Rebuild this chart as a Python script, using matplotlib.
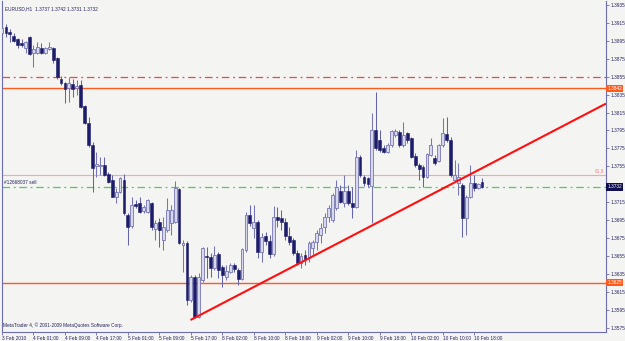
import matplotlib
matplotlib.use("Agg")
import matplotlib.pyplot as plt
import numpy as np

# ---- data (EURUSD H1) ----
opens = [1.3904,1.3910,1.3905,1.3900,1.3897,1.3893,1.3887,1.3899,1.3881,1.3881,
         1.3887,1.3881,1.3886,1.3887,1.3876,1.3853,1.3848,1.3842,1.3847,1.3842,
         1.3846,1.3822,1.3803,1.3779,1.3755,1.3755,1.3756,1.3746,1.3740,1.3721,
         1.3726,1.3740,1.3701,1.3688,1.3713,1.3714,1.3705,1.3704,1.3714,1.3685,
         1.3693,1.3673,1.3684,1.3692,1.3693,1.3730,1.3667,1.3669,1.3606,1.3631,
         1.3587,1.3628,1.3655,1.3654,1.3642,1.3657,1.3643,1.3631,1.3637,1.3645,
         1.3639,1.3629,1.3662,1.3701,1.3686,1.3693,1.3659,1.3677,1.3672,1.3657,
         1.3698,1.3697,1.3693,1.3677,1.3673,1.3658,1.3647,1.3656,1.3653,1.3664,
         1.3670,1.3678,1.3687,1.3698,1.3695,1.3708,1.3728,1.3714,1.3728,1.3714,
         1.3710,1.3765,1.3743,1.3742,1.3733,1.3796,1.3784,1.3775,1.3771,1.3779,
         1.3790,1.3793,1.3779,1.3792,1.3787,1.3767,1.3756,1.3754,1.3743,1.3768,
         1.3764,1.3761,1.3779,1.3791,1.3784,1.3740,1.3736,1.3734,1.3697,1.3721,
         1.3736,1.3731,1.3737]
highs = [1.3920,1.3914,1.3908,1.3904,1.3898,1.3897,1.3895,1.3900,1.3890,1.3894,
         1.3893,1.3888,1.3894,1.3888,1.3877,1.3856,1.3849,1.3855,1.3853,1.3851,
         1.3851,1.3823,1.3810,1.3782,1.3771,1.3765,1.3765,1.3749,1.3745,1.3731,
         1.3743,1.3746,1.3703,1.3721,1.3717,1.3721,1.3712,1.3718,1.3715,1.3695,
         1.3697,1.3698,1.3720,1.3712,1.3739,1.3731,1.3673,1.3672,1.3634,1.3634,
         1.3636,1.3665,1.3665,1.3658,1.3666,1.3659,1.3645,1.3645,1.3647,1.3647,
         1.3642,1.3664,1.3704,1.3712,1.3712,1.3695,1.3681,1.3682,1.3678,1.3711,
         1.3710,1.3706,1.3697,1.3687,1.3675,1.3662,1.3658,1.3662,1.3672,1.3673,
         1.3684,1.3692,1.3703,1.3712,1.3725,1.3740,1.3734,1.3745,1.3734,1.3732,
         1.3773,1.3768,1.3745,1.3743,1.3814,1.3838,1.3796,1.3779,1.3781,1.3796,
         1.3797,1.3796,1.3804,1.3793,1.3788,1.3770,1.3759,1.3756,1.3770,1.3787,
         1.3768,1.3780,1.3809,1.3810,1.3788,1.3762,1.3759,1.3736,1.3723,1.3756,
         1.3745,1.3736,1.3742]
lows = [1.3899,1.3899,1.3894,1.3894,1.3887,1.3888,1.3881,1.3879,1.3866,1.3880,
        1.3880,1.3880,1.3885,1.3870,1.3853,1.3846,1.3826,1.3827,1.3832,1.3835,
        1.3820,1.3802,1.3777,1.3726,1.3743,1.3745,1.3744,1.3736,1.3721,1.3714,
        1.3725,1.3701,1.3667,1.3686,1.3708,1.3703,1.3703,1.3703,1.3684,1.3673,
        1.3665,1.3662,1.3682,1.3678,1.3692,1.3668,1.3637,1.3600,1.3604,1.3586,
        1.3586,1.3626,1.3630,1.3631,1.3639,1.3630,1.3620,1.3628,1.3636,1.3637,
        1.3623,1.3628,1.3659,1.3688,1.3675,1.3653,1.3648,1.3667,1.3653,1.3655,
        1.3687,1.3684,1.3673,1.3667,1.3656,1.3645,1.3642,1.3645,1.3648,1.3655,
        1.3662,1.3669,1.3681,1.3693,1.3693,1.3706,1.3714,1.3710,1.3712,1.3697,
        1.3709,1.3743,1.3733,1.3732,1.3692,1.3773,1.3771,1.3770,1.3770,1.3777,
        1.3788,1.3777,1.3777,1.3781,1.3764,1.3754,1.3740,1.3732,1.3742,1.3767,
        1.3756,1.3760,1.3777,1.3782,1.3743,1.3737,1.3723,1.3676,1.3678,1.3720,
        1.3728,1.3730,1.3731]
closes = [1.3909,1.3904,1.3903,1.3895,1.3890,1.3890,1.3894,1.3880,1.3886,1.3888,
          1.3881,1.3887,1.3888,1.3874,1.3855,1.3848,1.3841,1.3848,1.3841,1.3845,
          1.3821,1.3803,1.3779,1.3753,1.3758,1.3756,1.3745,1.3737,1.3721,1.3726,
          1.3742,1.3703,1.3687,1.3712,1.3711,1.3704,1.3710,1.3717,1.3687,1.3692,
          1.3684,1.3687,1.3706,1.3706,1.3731,1.3669,1.3669,1.3606,1.3631,1.3587,
          1.3631,1.3664,1.3654,1.3642,1.3656,1.3639,1.3634,1.3638,1.3645,1.3640,
          1.3629,1.3663,1.3701,1.3692,1.3693,1.3659,1.3676,1.3672,1.3657,1.3698,
          1.3695,1.3693,1.3677,1.3670,1.3658,1.3647,1.3655,1.3650,1.3669,1.3670,
          1.3681,1.3686,1.3698,1.3708,1.3723,1.3732,1.3715,1.3728,1.3714,1.3710,
          1.3765,1.3745,1.3736,1.3735,1.3796,1.3775,1.3773,1.3771,1.3779,1.3794,
          1.3794,1.3779,1.3790,1.3784,1.3765,1.3756,1.3752,1.3743,1.3769,1.3779,
          1.3759,1.3779,1.3792,1.3784,1.3745,1.3745,1.3743,1.3697,1.3721,1.3736,
          1.3731,1.3735,1.3732]

time_label_idx = [0, 8, 16, 24, 32, 40, 48, 56, 64, 72, 80, 88, 96, 104, 112, 120]
time_labels = ["3 Feb 2010", "4 Feb 01:00", "4 Feb 09:00", "4 Feb 17:00",
               "5 Feb 01:00", "5 Feb 09:00", "5 Feb 17:00", "8 Feb 02:00",
               "8 Feb 10:00", "8 Feb 18:00", "9 Feb 02:00", "9 Feb 10:00",
               "9 Feb 18:00", "10 Feb 02:00", "10 Feb 10:00", "10 Feb 18:00"]
price_ticks = [1.3935, 1.3915, 1.3895, 1.3875, 1.3855, 1.3835, 1.3815, 1.3795,
               1.3775, 1.3755, 1.3735, 1.3715, 1.3695, 1.3675, 1.3655, 1.3635,
               1.3615, 1.3595, 1.3575]

resistance_level = 1.3842
support_level = 1.3625
stop_level = 1.3855
fib_level = 1.3745
order_level = 1.3732
bid_price = 1.3732
trend_idx = [47.9, 153.5]
trend_price = [1.35835, 1.38250]

# ---- style ----
BG = "#f4f4f2"
AXC = "#6c6cb0"
TXT = "#24245e"
BULL_FACE = "#d8d8ec"
BULL_EDGE = "#7676b4"
BEAR_FACE = "#1c1c6a"
WICK = "#6464a8"

plt.rcParams["font.family"] = ["Liberation Sans", "DejaVu Sans"]
FS = 3.4

fig = plt.figure(figsize=(6.25, 3.41), dpi=100, facecolor=BG)
ax = fig.add_axes([2/625, 9/341, 604/625, 331/341], facecolor=BG)

o = np.array(opens); h = np.array(highs); l = np.array(lows); c = np.array(closes)
x = np.arange(len(o))
bull = c >= o

# wicks
ax.vlines(x[bull], l[bull], h[bull], color=BULL_EDGE, lw=0.75, zorder=2)
ax.vlines(x[~bull], l[~bull], h[~bull], color=WICK, lw=0.75, zorder=2)
# bodies
bottom = np.minimum(o, c)
height = np.maximum(np.abs(c - o), 0.00006)
ax.bar(x[bull], height[bull], bottom=bottom[bull], width=0.72,
       color=BULL_FACE, edgecolor=BULL_EDGE, linewidth=0.6, zorder=3)
ax.bar(x[~bull], height[~bull], bottom=bottom[~bull], width=0.72,
       color=BEAR_FACE, edgecolor=BEAR_FACE, linewidth=0.4, zorder=3)

# horizontal objects
ax.axhline(stop_level, color="#f04848", lw=0.9, ls=(0, (6, 3, 1.5, 3)), zorder=1)
ax.axhline(resistance_level, color="#ff5a1e", lw=1.0, zorder=1)
ax.axhline(support_level, color="#ff5a1e", lw=1.0, zorder=1)
ax.axhline(fib_level, color="#f6a8a8", lw=0.8, zorder=1)
ax.axhline(order_level, color="#4ed04e", lw=0.9, ls=(0, (6, 3, 1.5, 3)), zorder=1)
ax.plot(trend_idx, trend_price, color="#ff1010", lw=1.5, zorder=4,
        solid_capstyle="butt")

ax.set_xlim(0.2, 153.5)
ax.set_ylim(1.35701, 1.39395)

# axes styling
for s in ax.spines.values():
    s.set_color(AXC)
    s.set_linewidth(0.8)
ax.spines["top"].set_visible(False)

ax.yaxis.tick_right()
ax.set_yticks(price_ticks)
# the 1.3735 label sits under the bid-price box, as in the terminal
ax.set_yticklabels(["" if abs(p - bid_price) < 0.0005 else f"{p:.4f}"
                    for p in price_ticks])
ax.tick_params(axis="y", length=2, width=0.6, color=AXC, pad=1.5,
               labelsize=FS, labelcolor=TXT)
ax.set_xticks(time_label_idx)
ax.set_xticklabels(time_labels, ha="left")
ax.tick_params(axis="x", length=2, width=0.6, color=AXC, pad=0.8,
               labelsize=FS, labelcolor=TXT)

ytr = ax.get_yaxis_transform()
box_kw = dict(boxstyle="square,pad=0.25", edgecolor="none")
ax.text(1.002, resistance_level, f"{resistance_level:.4f}", transform=ytr,
        ha="left", va="center", fontsize=FS, color="white",
        bbox=dict(facecolor="#ff5a1e", **box_kw), clip_on=False, zorder=10)
ax.text(1.002, support_level, f"{support_level:.4f}", transform=ytr,
        ha="left", va="center", fontsize=FS, color="white",
        bbox=dict(facecolor="#ff5a1e", **box_kw), clip_on=False, zorder=10)
ax.text(1.002, bid_price, f"{bid_price:.4f}", transform=ytr,
        ha="left", va="center", fontsize=FS, color="white",
        bbox=dict(facecolor="#101050", **box_kw), clip_on=False, zorder=10)

ax.text(0.997, fib_level + 0.00015, "61.8", transform=ytr, ha="right",
        va="bottom", fontsize=FS, color="#f08080")
ax.text(0.003, order_level + 0.00025, "#12668037 sell", transform=ytr,
        ha="left", va="bottom", fontsize=FS, color=TXT)

ax.text(0.005, 0.985, "EURUSD,H1  1.3737 1.3742 1.3731 1.3732",
        transform=ax.transAxes, ha="left", va="top", fontsize=FS, color=TXT)
ax.text(0.002, 0.012, "MetaTrader 4, \u00a9 2001-2009 MetaQuotes Software Corp.",
        transform=ax.transAxes, ha="left", va="bottom", fontsize=FS, color=TXT)

fig.savefig("out.png", dpi=100, facecolor=BG)
